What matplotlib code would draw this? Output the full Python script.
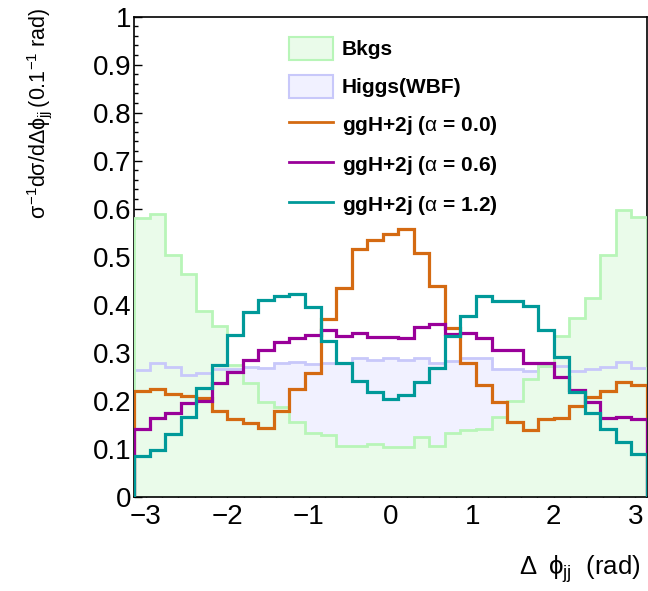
import numpy as np
import matplotlib
matplotlib.use("Agg")
import matplotlib.pyplot as plt
from matplotlib.ticker import MultipleLocator
from matplotlib.patches import Patch
from matplotlib.lines import Line2D

plt.rcParams['font.family'] = ['Liberation Sans', 'DejaVu Sans']
plt.rcParams['mathtext.fontset'] = 'custom'
plt.rcParams['mathtext.rm'] = 'Liberation Sans'
plt.rcParams['mathtext.it'] = 'Liberation Sans'
plt.rcParams['mathtext.bf'] = 'Liberation Sans:bold'

# 33 bins over [-pi, pi]
n_bins = 33
x_min, x_max = -np.pi, np.pi

bkgs = [0.580, 0.588, 0.503, 0.464, 0.387, 0.356, 0.274, 0.236, 0.198, 0.186, 0.155,
        0.132, 0.128, 0.106, 0.106, 0.110, 0.103, 0.103, 0.125, 0.106, 0.133, 0.140,
        0.142, 0.167, 0.200, 0.245, 0.273, 0.335, 0.373, 0.415, 0.504, 0.597, 0.583]
higgs_wbf = [0.264, 0.279, 0.270, 0.254, 0.257, 0.266, 0.266, 0.271, 0.269, 0.279, 0.280,
             0.277, 0.279, 0.279, 0.288, 0.285, 0.290, 0.285, 0.288, 0.278, 0.283, 0.288,
             0.288, 0.266, 0.266, 0.262, 0.272, 0.272, 0.262, 0.266, 0.270, 0.281, 0.268]
ggh_a00 = [0.221, 0.224, 0.215, 0.210, 0.205, 0.179, 0.161, 0.153, 0.144, 0.179, 0.224,
           0.258, 0.370, 0.434, 0.515, 0.535, 0.547, 0.558, 0.507, 0.440, 0.352, 0.279,
           0.233, 0.198, 0.155, 0.140, 0.161, 0.163, 0.188, 0.207, 0.220, 0.238, 0.233]
ggh_a06 = [0.142, 0.165, 0.175, 0.195, 0.200, 0.236, 0.259, 0.285, 0.306, 0.323, 0.330,
           0.337, 0.347, 0.335, 0.342, 0.333, 0.333, 0.331, 0.354, 0.359, 0.340, 0.342,
           0.331, 0.306, 0.306, 0.278, 0.278, 0.250, 0.222, 0.198, 0.163, 0.167, 0.161]
ggh_a12 = [0.085, 0.097, 0.130, 0.167, 0.227, 0.274, 0.337, 0.385, 0.410, 0.418, 0.422,
           0.396, 0.325, 0.278, 0.241, 0.219, 0.203, 0.212, 0.240, 0.269, 0.335, 0.377,
           0.418, 0.408, 0.408, 0.397, 0.347, 0.292, 0.219, 0.174, 0.141, 0.113, 0.090]

labels = ['Bkgs', 'Higgs(WBF)', r'ggH+2j ($\alpha$ = 0.0)',
          r'ggH+2j ($\alpha$ = 0.6)', r'ggH+2j ($\alpha$ = 1.2)']
ytick_labels = ['0', '0.1', '0.2', '0.3', '0.4', '0.5', '0.6', '0.7', '0.8', '0.9', '1']

edges = np.linspace(x_min, x_max, n_bins + 1)

fig = plt.figure(figsize=(6.48, 5.91), dpi=100)
ax = fig.add_axes([134/648, 1 - 496.7/591, 513/648, 480/591])

bkg_line, bkg_fill = '#b8f5b8', '#eafbea'
hig_line, hig_fill = '#c8c8fa', '#f1f1ff'
c_orange, c_purple, c_teal = '#d46a12', '#990099', '#009999'

ax.stairs(higgs_wbf, edges, fill=True, color=hig_fill, zorder=1)
ax.stairs(bkgs, edges, fill=True, color=bkg_fill, zorder=2)
ax.stairs(higgs_wbf, edges, color=hig_line, lw=2.0, zorder=3)
ax.stairs(bkgs, edges, color=bkg_line, lw=2.0, zorder=3)
ax.stairs(ggh_a00, edges, color=c_orange, lw=2.3, zorder=5)
ax.stairs(ggh_a06, edges, color=c_purple, lw=2.3, zorder=5)
ax.stairs(ggh_a12, edges, color=c_teal, lw=2.3, zorder=5)

ax.set_xlim(x_min, x_max)
ax.set_ylim(0, 1)
ax.xaxis.set_major_locator(MultipleLocator(1))
ax.xaxis.set_minor_locator(MultipleLocator(0.2))
ax.yaxis.set_minor_locator(MultipleLocator(0.02))
ax.set_yticks(np.round(np.arange(0, 1.01, 0.1), 1))
ax.set_yticklabels(ytick_labels)
ax.tick_params(which='both', direction='in', top=False, right=False, labelsize=20)
ax.tick_params(which='major', length=6, width=1.0)
ax.tick_params(which='minor', length=3, width=1.0)
ax.tick_params(axis='x', pad=5)
ax.tick_params(axis='y', pad=2)
for s in ax.spines.values():
    s.set_linewidth(1.2)

ax.set_ylabel(r'$\sigma^{-1}d\sigma/d\Delta\phi_{jj}\,$(0.1$^{-1}$ rad)', fontsize=15.5, loc='top')
ax.yaxis.set_label_coords(-0.155, 1.02)
ax.set_xlabel(r'$\Delta\;\;\phi_{jj}$  (rad)', fontsize=18.5, loc='right')
ax.xaxis.set_label_coords(0.987, -0.118)

handles = [Patch(facecolor=bkg_fill, edgecolor=bkg_line, lw=1.5),
           Patch(facecolor=hig_fill, edgecolor=hig_line, lw=1.5),
           Line2D([], [], color=c_orange, lw=2),
           Line2D([], [], color=c_purple, lw=2),
           Line2D([], [], color=c_teal, lw=2)]
leg = ax.legend(handles, labels, loc='upper left', bbox_to_anchor=(0.302, 0.958),
                frameon=False, prop={'weight': 'bold', 'size': 15},
                handlelength=2.1, handleheight=1.3, handletextpad=0.43,
                labelspacing=0.74, borderaxespad=0, borderpad=0)

fig.savefig('out.png', dpi=100)
